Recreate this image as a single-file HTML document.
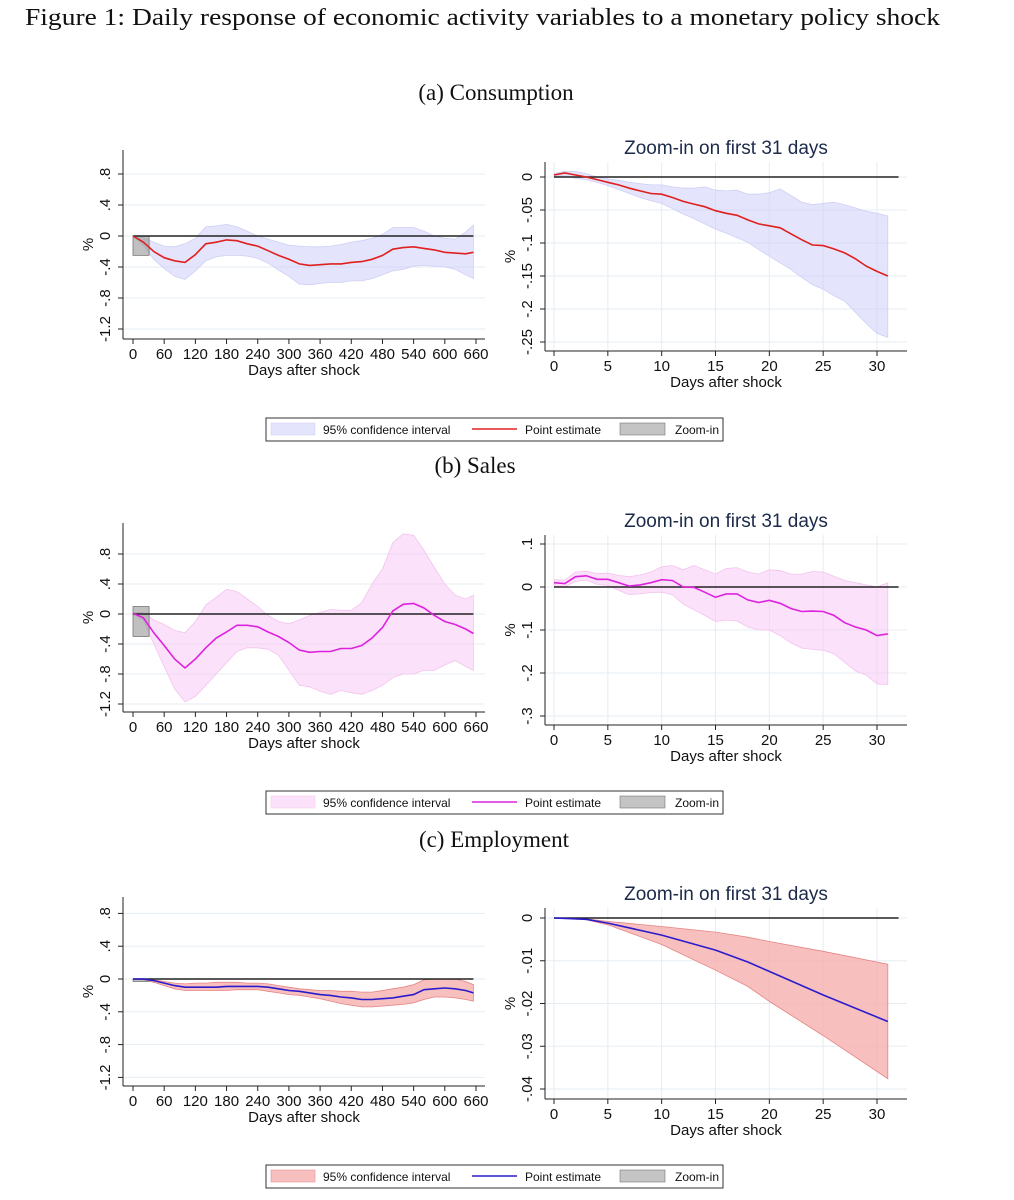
<!DOCTYPE html>
<html><head><meta charset="utf-8"><style>
html,body{margin:0;padding:0;background:#fff;}
svg{display:block;}
</style></head><body>
<svg id="fig" width="1014" height="1200" viewBox="0 0 1014 1200" xmlns="http://www.w3.org/2000/svg" font-family="Liberation Sans, sans-serif">
<text x="25" y="25" font-family="Liberation Serif, serif" font-size="24" textLength="915" lengthAdjust="spacingAndGlyphs" fill="#111">Figure 1: Daily response of economic activity variables to a monetary policy shock</text>
<text x="496" y="100" text-anchor="middle" font-family="Liberation Serif, serif" font-size="23" fill="#111">(a) Consumption</text>
<text x="475" y="473" text-anchor="middle" font-family="Liberation Serif, serif" font-size="23" fill="#111">(b) Sales</text>
<text x="494" y="847" text-anchor="middle" font-family="Liberation Serif, serif" font-size="23" fill="#111">(c) Employment</text>
</svg>
<script>
// ---- data: long horizon ----
const longDays = [0,20,40,60,80,100,120,140,160,180,200,220,240,260,280,300,320,340,360,380,400,420,440,460,480,500,520,540,560,580,600,620,640,655];
const consPoint = [0,-0.08,-0.2,-0.28,-0.32,-0.34,-0.24,-0.1,-0.08,-0.05,-0.06,-0.1,-0.13,-0.19,-0.25,-0.3,-0.36,-0.38,-0.37,-0.36,-0.36,-0.34,-0.33,-0.3,-0.25,-0.17,-0.15,-0.14,-0.16,-0.18,-0.21,-0.22,-0.23,-0.21];
const consUpper = [0,-0.02,-0.08,-0.13,-0.14,-0.1,-0.03,0.12,0.13,0.15,0.12,0.06,0.0,-0.04,-0.08,-0.12,-0.13,-0.14,-0.14,-0.13,-0.11,-0.08,-0.06,-0.03,0.02,0.11,0.11,0.11,0.06,0.0,-0.03,-0.04,0.05,0.14];
const consLower = [0,-0.12,-0.3,-0.42,-0.52,-0.56,-0.45,-0.32,-0.27,-0.25,-0.25,-0.26,-0.29,-0.35,-0.44,-0.52,-0.62,-0.63,-0.61,-0.6,-0.6,-0.58,-0.58,-0.55,-0.5,-0.45,-0.43,-0.39,-0.38,-0.39,-0.4,-0.43,-0.5,-0.55];
const salesPoint = [0.01,-0.05,-0.25,-0.42,-0.6,-0.72,-0.6,-0.45,-0.32,-0.24,-0.15,-0.15,-0.17,-0.24,-0.3,-0.38,-0.48,-0.51,-0.5,-0.5,-0.46,-0.46,-0.42,-0.32,-0.18,0.04,0.13,0.14,0.08,-0.02,-0.1,-0.14,-0.2,-0.26];
const salesUpper = [0.02,0.02,-0.08,-0.14,-0.22,-0.25,-0.1,0.12,0.22,0.33,0.3,0.2,0.1,-0.02,-0.1,-0.13,-0.08,-0.02,0.02,0.06,0.05,0.05,0.15,0.4,0.6,0.95,1.07,1.05,0.85,0.62,0.4,0.25,0.2,0.25];
const salesLower = [0,-0.08,-0.4,-0.7,-1.0,-1.17,-1.1,-0.95,-0.8,-0.65,-0.5,-0.45,-0.45,-0.47,-0.55,-0.75,-0.95,-0.97,-1.03,-1.07,-1.02,-1.05,-1.07,-1.02,-0.95,-0.85,-0.8,-0.8,-0.75,-0.75,-0.68,-0.62,-0.7,-0.75];
const empPoint = [0,0,-0.02,-0.05,-0.08,-0.1,-0.1,-0.1,-0.1,-0.09,-0.09,-0.09,-0.09,-0.1,-0.12,-0.14,-0.15,-0.17,-0.19,-0.2,-0.22,-0.23,-0.25,-0.25,-0.24,-0.23,-0.21,-0.19,-0.13,-0.12,-0.11,-0.12,-0.14,-0.17];
const empUpper = [0,0,-0.01,-0.03,-0.05,-0.06,-0.05,-0.05,-0.04,-0.04,-0.04,-0.05,-0.05,-0.06,-0.08,-0.1,-0.12,-0.13,-0.14,-0.14,-0.15,-0.15,-0.16,-0.16,-0.14,-0.12,-0.1,-0.07,-0.01,0.0,0.0,0.0,-0.03,-0.07];
const empLower = [0,-0.01,-0.04,-0.08,-0.12,-0.14,-0.14,-0.14,-0.14,-0.14,-0.13,-0.13,-0.13,-0.15,-0.17,-0.19,-0.2,-0.22,-0.24,-0.27,-0.3,-0.32,-0.34,-0.34,-0.33,-0.32,-0.31,-0.29,-0.25,-0.22,-0.22,-0.23,-0.25,-0.27];
const longXTicks = [0,60,120,180,240,300,360,420,480,540,600,660];
const longYTicks = [0.8,0.4,0,-0.4,-0.8,-1.2];
const longYLabels = [".8",".4","0","-.4","-.8","-1.2"];
const consBox = [0,31,0,-0.25];
const salesBox = [0,31,0.1,-0.3];
const empBox = [0,31,0,-0.03];
// ---- data: zoom-in ----
const shortDays = [0,1,2,3,4,5,6,7,8,9,10,11,12,13,14,15,16,17,18,19,20,21,22,23,24,25,26,27,28,29,30,31];
const zConsPoint = [0.003,0.006,0.003,0,-0.004,-0.008,-0.012,-0.017,-0.021,-0.025,-0.026,-0.031,-0.037,-0.041,-0.045,-0.051,-0.055,-0.058,-0.065,-0.071,-0.074,-0.077,-0.086,-0.095,-0.103,-0.104,-0.109,-0.115,-0.124,-0.135,-0.143,-0.15];
const zConsUpper = [0.005,0.009,0.008,0.005,0,-0.003,-0.005,-0.008,-0.01,-0.012,-0.012,-0.015,-0.017,-0.017,-0.015,-0.02,-0.021,-0.02,-0.026,-0.026,-0.024,-0.018,-0.028,-0.038,-0.042,-0.04,-0.038,-0.042,-0.047,-0.052,-0.055,-0.059];
const zConsLower = [0.001,0.002,-0.002,-0.004,-0.008,-0.013,-0.019,-0.025,-0.031,-0.036,-0.04,-0.048,-0.056,-0.063,-0.071,-0.079,-0.085,-0.092,-0.099,-0.11,-0.12,-0.13,-0.14,-0.152,-0.163,-0.17,-0.18,-0.188,-0.205,-0.222,-0.237,-0.243];
const zSalesPoint = [0.01,0.008,0.024,0.026,0.018,0.018,0.01,0.002,0.005,0.01,0.017,0.015,0,-0.001,-0.012,-0.024,-0.016,-0.016,-0.03,-0.036,-0.031,-0.038,-0.05,-0.057,-0.056,-0.057,-0.066,-0.083,-0.093,-0.1,-0.113,-0.109];
const zSalesUpper = [0.017,0.016,0.035,0.037,0.031,0.032,0.027,0.024,0.028,0.035,0.047,0.05,0.04,0.05,0.04,0.03,0.043,0.045,0.035,0.03,0.04,0.038,0.03,0.03,0.036,0.035,0.025,0.015,0.01,0.005,0.0,0.01];
const zSalesLower = [0.003,0.0,0.013,0.016,0.006,0.004,-0.008,-0.018,-0.016,-0.013,-0.012,-0.018,-0.04,-0.053,-0.066,-0.08,-0.077,-0.079,-0.093,-0.1,-0.1,-0.113,-0.13,-0.142,-0.145,-0.147,-0.155,-0.175,-0.195,-0.205,-0.225,-0.227];
const empShortDays = [0,3,5,10,15,18,20,25,31];
const zEmpPoint = [0,-0.0003,-0.0012,-0.004,-0.0075,-0.0103,-0.0125,-0.018,-0.0242];
const zEmpUpper = [0,-0.0002,-0.0008,-0.002,-0.0033,-0.0045,-0.0055,-0.0078,-0.0108];
const zEmpLower = [0,-0.0004,-0.0016,-0.0062,-0.0122,-0.016,-0.0195,-0.0275,-0.0376];
const shortXTicks = [0,5,10,15,20,25,30];
const zConsYTicks = [0,-0.05,-0.1,-0.15,-0.2,-0.25];
const zConsYLabels = ["0","-.05","-.1","-.15","-.2","-.25"];
const zSalesYTicks = [0.1,0,-0.1,-0.2,-0.3];
const zSalesYLabels = [".1","0","-.1","-.2","-.3"];
const zEmpYTicks = [0,-0.01,-0.02,-0.03,-0.04];
const zEmpYLabels = ["0","-.01","-.02","-.03","-.04"];

const NS = "http://www.w3.org/2000/svg";
const svg = document.getElementById('fig');
function mk(tag, attrs, parent, txt){
  const e = document.createElementNS(NS, tag);
  for (const k in attrs) e.setAttribute(k, attrs[k]);
  if (txt !== undefined) e.textContent = txt;
  (parent||svg).appendChild(e);
  return e;
}
function chart(o){
  const g = mk('g', {});
  
  
  const sx = v => o.px0 + (v - o.d0) * (o.px1 - o.px0) / (o.d1 - o.d0);
  const sy = v => o.py0 - v * o.k;
  o.yTicks.forEach(t => {
    const l = mk('line', {x1:o.axX, x2:o.right, y1:sy(t), y2:sy(t), stroke:'#e6edf2', 'stroke-width':1}, g);
    
    
  });
  if (o.vgrid) o.xTicks.forEach(t => {
    const l = mk('line', {x1:sx(t), x2:sx(t), y1:o.top, y2:o.axY, stroke:'#e6edf2', 'stroke-width':1}, g);
    
    
  });
  let d = '';
  o.days.forEach((x,i) => { d += (i?'L':'M') + sx(x).toFixed(1) + ' ' + sy(o.upper[i]).toFixed(1); });
  for (let i = o.days.length-1; i >= 0; i--) d += 'L' + sx(o.days[i]).toFixed(1) + ' ' + sy(o.lower[i]).toFixed(1);
  const band = mk('path', {d:d+'Z', fill:o.ciFill, stroke:o.ciStroke, 'stroke-width':0.8}, g);
  
  
  if (o.box) {
    const b = o.box;
    const r = mk('rect', {x:sx(b[0]), y:sy(b[2]), width:sx(b[1])-sx(b[0]), height:sy(b[3])-sy(b[2]), fill:'rgba(150,150,150,0.6)', stroke:'#777', 'stroke-width':0.8}, g);
    
    
  }
  const z = mk('line', {x1:sx(0), x2:sx(o.zeroEnd), y1:sy(0), y2:sy(0), stroke:'#222', 'stroke-width':1.4}, g);
  
  
  const pts = o.days.map((x,i) => sx(x).toFixed(1)+','+sy(o.point[i]).toFixed(1)).join(' ');
  const pl = mk('polyline', {points:pts, fill:'none', stroke:o.lineColor, 'stroke-width':1.6}, g);
  
  
  const ya = mk('line', {x1:o.axX, x2:o.axX, y1:o.top, y2:o.axY, stroke:'#222', 'stroke-width':1}, g);
  
  
  const xa = mk('line', {x1:o.axX, x2:o.right, y1:o.axY, y2:o.axY, stroke:'#222', 'stroke-width':1}, g);
  
  
  o.yTicks.forEach((t,i) => {
    const y = sy(t);
    const tk = mk('line', {x1:o.axX-5, x2:o.axX, y1:y, y2:y, stroke:'#222'}, g);
    
    
    const tx = mk('text', {x:o.axX-13, y:y, 'font-size':15, fill:'#111', 'text-anchor':'middle', transform:'rotate(-90 '+(o.axX-13)+' '+y+')'}, g, o.yLabels[i]);
    
    
  });
  o.xTicks.forEach(t => {
    const x = sx(t);
    const tk = mk('line', {x1:x, x2:x, y1:o.axY, y2:o.axY+5, stroke:'#222'}, g);
    
    
    const tx = mk('text', {x:x, y:o.axY+20, 'font-size':15, fill:'#111', 'text-anchor':'middle'}, g, String(t));
    
    
  });
  const xt = mk('text', {x:(o.axX+o.right)/2, y:o.axY+36, 'font-size':15, fill:'#111', 'text-anchor':'middle'}, g, 'Days after shock');
  
  
  const yc = (o.top+o.axY)/2;
  const yt = mk('text', {x:o.axX-30, y:yc, 'font-size':15, fill:'#111', 'text-anchor':'middle', transform:'rotate(-90 '+(o.axX-30)+' '+yc+')'}, g, '%');
  
  
  if (o.title) {
    const tt = mk('text', {x:(o.axX+o.right)/2, y:o.top-8, 'font-size':19, fill:'#1c2a4a', 'text-anchor':'middle'}, g, o.title);
    
    
  }
}
function legend(y, ciFill, ciStroke, lineColor, nm){
  const g = mk('g', {});
  
  
  mk('rect', {x:266, y:y, width:457, height:23, fill:'#fff', stroke:'#333', 'stroke-width':1}, g);
  const s1 = mk('rect', {x:271, y:y+5, width:44, height:12, fill:ciFill, stroke:ciStroke, 'stroke-width':0.5}, g);
  
  
  const t1 = mk('text', {x:323, y:y+16, 'font-size':12, fill:'#111'}, g, '95% confidence interval');
  
  
  const s2 = mk('line', {x1:472, x2:517, y1:y+11, y2:y+11, stroke:lineColor, 'stroke-width':1.6}, g);
  
  
  const t2 = mk('text', {x:525, y:y+16, 'font-size':12, fill:'#111'}, g, 'Point estimate');
  
  
  const s3 = mk('rect', {x:620, y:y+5, width:45, height:12, fill:'#c4c4c4', stroke:'#777', 'stroke-width':0.6}, g);
  
  
  const t3 = mk('text', {x:675, y:y+16, 'font-size':12, fill:'#111'}, g, 'Zoom-in');
  
  
}
const cC = {fill:'rgba(205,205,250,0.55)', stroke:'#cfcff5', line:'#e0201e'};
const cS = {fill:'rgba(250,200,245,0.55)', stroke:'#f2c4ee', line:'#dd22dd'};
const cE = {fill:'rgba(245,170,170,0.75)', stroke:'#e58585', line:'#2a1ccc'};
const L = {d0:0, d1:660, px0:133, px1:476, axX:123, right:485, xTicks:longXTicks, yTicks:longYTicks, yLabels:longYLabels, days:longDays, zeroEnd:655};
const R = {d0:0, d1:30, px0:554, px1:877, axX:545, right:907, xTicks:shortXTicks, zeroEnd:32, vgrid:true, title:'Zoom-in on first 31 days'};
chart(Object.assign({}, L, {name:'consumption-long-chart', py0:236, k:77.5, axY:339, top:150, upper:consUpper, lower:consLower, point:consPoint, box:consBox, ciFill:cC.fill, ciStroke:cC.stroke, lineColor:cC.line}));
chart(Object.assign({}, R, {name:'consumption-zoom-chart', py0:177, k:660, axY:351, top:162, yTicks:zConsYTicks, yLabels:zConsYLabels, days:shortDays, upper:zConsUpper, lower:zConsLower, point:zConsPoint, ciFill:cC.fill, ciStroke:cC.stroke, lineColor:cC.line}));
legend(418, cC.fill, cC.stroke, cC.line, 'legend-consumption');
chart(Object.assign({}, L, {name:'sales-long-chart', py0:614, k:75, axY:712, top:523, upper:salesUpper, lower:salesLower, point:salesPoint, box:salesBox, ciFill:cS.fill, ciStroke:cS.stroke, lineColor:cS.line}));
chart(Object.assign({}, R, {name:'sales-zoom-chart', py0:587, k:430, axY:725, top:535, yTicks:zSalesYTicks, yLabels:zSalesYLabels, days:shortDays, upper:zSalesUpper, lower:zSalesLower, point:zSalesPoint, ciFill:cS.fill, ciStroke:cS.stroke, lineColor:cS.line}));
legend(791, cS.fill, cS.stroke, cS.line, 'legend-sales');
chart(Object.assign({}, L, {name:'employment-long-chart', py0:979, k:82, axY:1086, top:897, upper:empUpper, lower:empLower, point:empPoint, box:empBox, ciFill:cE.fill, ciStroke:cE.stroke, lineColor:cE.line}));
chart(Object.assign({}, R, {name:'employment-zoom-chart', py0:918, k:4275, axY:1099, top:908, yTicks:zEmpYTicks, yLabels:zEmpYLabels, days:empShortDays, upper:zEmpUpper, lower:zEmpLower, point:zEmpPoint, ciFill:cE.fill, ciStroke:cE.stroke, lineColor:cE.line}));
legend(1165, cE.fill, cE.stroke, cE.line, 'legend-employment');
</script>
</body></html>
